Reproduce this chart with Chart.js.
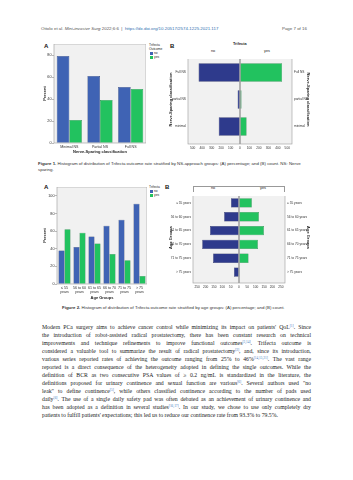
<!DOCTYPE html>
<html lang="en">
<head>
<meta charset="utf-8">
<script src="https://cdn.jsdelivr.net/npm/chart.js@4.4.1/dist/chart.umd.min.js"></script>
<style>
  html, body { margin: 0; padding: 0; background: #fff; }
  #page { position: relative; width: 353px; height: 480px; overflow: hidden;
          font-family: "Liberation Sans", Arial, sans-serif; color: #333; }
  .t { position: absolute; white-space: nowrap; }
  canvas { position: absolute; }
  .entete { font-size: 4.4px; line-height: 6px; color: #555; }
  .entete a { color: #2f6fb0; text-decoration: none; }
  .lettre { font-size: 6px; line-height: 7px; font-weight: bold; color: #111; }
  .leg { font-size: 3.3px; line-height: 3.6px; color: #222; }
  .carre { display: inline-block; width: 3px; height: 3px; margin-right: 1px; vertical-align: middle; }
  .haut { font-size: 3.8px; line-height: 5px; color: #222; }
  .legende { font-size: 4.4px; line-height: 6px; color: #333; }
  .texte { position: absolute; left: 42px; width: 269px; font-family: "Liberation Serif", "Times New Roman", serif;
           font-size: 5.75px; line-height: 8px; color: #222; text-align: justify; text-align-last: justify; white-space: nowrap; }
  .texte.fin { text-align-last: left; }
  .texte sup { font-size: 3.4px; color: #3a78c0; vertical-align: 2px; line-height: 0; }
</style>
</head>
<body>
<div id="page">
  <div class="t entete" style="left:41px; top:26px;">Ottolo et al. <i>Mini-invasive Surg</i> 2022;6:6 &nbsp;|&nbsp; <a>https://dx.doi.org/10.20517/2574-1225.2021.117</a></div>
  <div class="t entete" style="left:282px; top:26px;">Page 7 of 16</div>

  <!-- Figure 1 -->
  <div class="t lettre" style="left:44px; top:43px;">A</div>
  <div class="t lettre" style="left:170px; top:43px;">B</div>
  <div class="t leg" style="left:149px; top:44px;">Trifecta<br>Outcome</div>
  <div class="t leg" style="left:150px; top:52px;"><span class="carre" id="c1n"></span>no<br><span class="carre" id="c1y"></span>yes</div>
  <canvas id="fig1a" width="104" height="110" style="left:42px; top:44px;"></canvas>
  <div class="t haut" style="left:233px; top:42px; font-weight:bold;">Trifecta</div>
  <div class="t haut" style="left:211px; top:49px;">no</div>
  <div class="t haut" style="left:264px; top:49px;">yes</div>
  <canvas id="fig1b" width="143" height="92" style="left:168px; top:59px;"></canvas>
  <div class="t legende" style="left:38px; top:161px;"><b>Figure 1.</b> Histogram of distribution of Trifecta outcome rate stratified by NS-approach groups: (A) percentage; and (B) count. NS: Nerve</div>
  <div class="t legende" style="left:38px; top:167px;">sparing.</div>

  <!-- Figure 2 -->
  <div class="t lettre" style="left:44px; top:184px;">A</div>
  <div class="t lettre" style="left:165px; top:184px;">B</div>
  <div class="t leg" style="left:149px; top:186px;">Trifecta</div>
  <div class="t leg" style="left:150px; top:190px;"><span class="carre" id="c2n"></span>no<br><span class="carre" id="c2y"></span>yes</div>
  <canvas id="fig2a" width="105" height="113" style="left:42px; top:187px;"></canvas>
  <div class="t" style="left:193px; top:186px; width:92px; height:6px; border:0.5px solid #999; border-bottom:none; box-sizing:border-box;"></div>
  <div class="t haut" style="left:211px; top:185.5px;">no</div>
  <div class="t haut" style="left:260px; top:185.5px;">yes</div>
  <canvas id="fig2b" width="143" height="94" style="left:168px; top:196px;"></canvas>
  <div class="t legende" style="left:62px; top:305px;"><b>Figure 2.</b> Histogram of distribution of Trifecta outcome rate stratified by age groups: (A) percentage; and (B) count.</div>

  <div class="texte" style="top:323px;">Modern PCa surgery aims to achieve cancer control while minimizing its impact on patients' QoL<sup>[1]</sup>. Since</div>
  <div class="texte" style="top:331px;">the introduction of robot-assisted radical prostatectomy, there has been constant research on technical</div>
  <div class="texte" style="top:339px;">improvements and technique refinements to improve functional outcomes<sup>[3,14]</sup>. Trifecta outcome is</div>
  <div class="texte" style="top:347px;">considered a valuable tool to summarize the result of radical prostatectomy<sup>[3]</sup>, and, since its introduction,</div>
  <div class="texte" style="top:355px;">various series reported rates of achieving the outcome ranging from 25% to 46%<sup>[14,15,21]</sup>. The vast range</div>
  <div class="texte" style="top:363px;">reported is a direct consequence of the heterogeneity adopted in defining the single outcomes. While the</div>
  <div class="texte" style="top:371px;">definition of BCR as two consecutive PSA values of ≥ 0.2 ng/mL is standardized in the literature, the</div>
  <div class="texte" style="top:379px;">definitions proposed for urinary continence and sexual function are various<sup>[6]</sup>. Several authors used "no</div>
  <div class="texte" style="top:387px;">leak" to define continence<sup>[5]</sup>, while others classified continence according to the number of pads used</div>
  <div class="texte" style="top:395px;">daily<sup>[6]</sup>. The use of a single daily safety pad was often debated as an achievement of urinary continence and</div>
  <div class="texte" style="top:403px;">has been adopted as a definition in several studies<sup>[16,17]</sup>. In our study, we chose to use only completely dry</div>
  <div class="texte fin" style="top:411px;">patients to fulfill patients' expectations; this led us to reduce our continence rate from 93.3% to 79.5%.</div>
</div>

<script>
// ========== DONNEES ==========
// Figure 1 : classification nerve-sparing
const nsCats = ['Minimal NS', 'Partial NS', 'Full NS'];
const nsPctNo = [79, 61, 51];
const nsPctYes = [21, 39, 49];

const nsCatsB = ['Full NS', 'partial NS', 'minimal'];
const nsCountNo = [438, 25, 225];
const nsCountYes = [445, 16, 70];

// Figure 2 : groupes d'âge
const ageCats = ['≤ 55 years', '56 to 60 years', '61 to 65 years', '66 to 70 years', '71 to 75 years', '> 75 years'];
const agePctNo = [38, 42, 54, 66, 73, 91];
const agePctYes = [62, 58, 46, 34, 27, 9];
const ageCountNo = [48, 89, 173, 220, 155, 30];
const ageCountYes = [77, 119, 149, 113, 57, 3];

// Graduations
const ticks1a = [0, 20, 40, 60, 80];
const ticks1b = [-500, -400, -300, -200, -100, 0, 100, 200, 300, 400, 500];
const ticks2a = [0, 20, 40, 60, 80, 100];
const ticks2b = [-250, -200, -150, -100, -50, 0, 50, 100, 150, 200, 250];

// Couleurs SPSS
const bleuA = '#3F63B4';
const bleuB = '#2E3A8C';
const vert = '#22C25F';

['c1n', 'c2n'].forEach(id => document.getElementById(id).style.background = bleuA);
['c1y', 'c2y'].forEach(id => document.getElementById(id).style.background = vert);

Chart.defaults.font.family = '"Liberation Sans", Arial, sans-serif';
Chart.defaults.font.size = 3.8;
Chart.defaults.color = '#333';
Chart.defaults.animation = false;

// taille fixe pour chaque axe, sans marge auto
function fixe(taille) {
    return s => {
        if (s.isHorizontal()) s.height = taille; else s.width = taille;
        s.paddingTop = s.paddingBottom = s.paddingLeft = s.paddingRight = 0;
    };
}

function ticksFixes(valeurs) {
    return s => { s.ticks = valeurs.map(v => ({ value: v })); };
}

// Plugin : fond gris + cadre de la zone de traçage, ligne du zéro
const cadre = {
    id: 'cadre',
    beforeDraw: (chart, args, o) => {
        const a = chart.chartArea, p = o.pad || 0, c = chart.ctx;
        c.save();
        c.fillStyle = '#f1f1f1';
        c.fillRect(a.left, a.top - p, a.right - a.left, a.bottom - a.top + 2 * p);
        c.restore();
    },
    afterDatasetsDraw: (chart, args, o) => {
        const a = chart.chartArea, p = o.pad || 0, c = chart.ctx;
        c.save();
        if (o.zero) {
            const x0 = chart.scales.x.getPixelForValue(0);
            c.strokeStyle = '#a3a3a3';
            c.lineWidth = 1.6;
            c.beginPath();
            c.moveTo(x0, a.top - p);
            c.lineTo(x0, a.bottom + p);
            c.stroke();
        }
        c.strokeStyle = '#9a9a9a';
        c.lineWidth = 0.6;
        c.strokeRect(a.left, a.top - p, a.right - a.left, a.bottom - a.top + 2 * p);
        c.restore();
    }
};

const titre = (txt) => ({ display: true, text: txt, font: { size: 4, weight: 'bold' }, padding: 0, color: '#222' });

// Histogramme vertical (pourcentages)
function histo(id, cats, no, yes, ticks, yMax, xTitle, yw, xh, catPct) {
    new Chart(document.getElementById(id), {
        type: 'bar',
        data: {
            labels: cats,
            datasets: [
                { label: 'no', data: no, backgroundColor: bleuA, borderColor: '#22356a', borderWidth: 0.5,
                  barPercentage: 1, categoryPercentage: catPct },
                { label: 'yes', data: yes, backgroundColor: vert, borderColor: '#167a3b', borderWidth: 0.5,
                  barPercentage: 1, categoryPercentage: catPct }
            ]
        },
        options: {
            responsive: false,
            layout: { padding: 0 },
            plugins: { legend: { display: false }, tooltip: { enabled: false }, cadre: { pad: 0 } },
            scales: {
                x: {
                    grid: { display: false, drawTicks: false },
                    border: { display: false },
                    ticks: { padding: 2, maxRotation: 0, autoSkip: false, font: { size: 3.6 } },
                    title: titre(xTitle),
                    afterFit: fixe(xh)
                },
                y: {
                    min: 0, max: yMax,
                    grid: { drawOnChartArea: false, tickLength: 2, color: '#777', lineWidth: 0.5 },
                    border: { display: false },
                    ticks: { padding: 0.5 },
                    afterBuildTicks: ticksFixes(ticks),
                    title: titre('Percent'),
                    afterFit: fixe(yw)
                }
            }
        },
        plugins: [cadre]
    });
}

// Histogramme en miroir (effectifs)
function papillon(id, cats, no, yes, ticks, lim, yTitle, yl, yr, barPct) {
    new Chart(document.getElementById(id), {
        type: 'bar',
        data: {
            labels: cats,
            datasets: [
                { label: 'no', data: no.map(v => -v), backgroundColor: bleuB, borderColor: '#1b2258', borderWidth: 0.5,
                  barPercentage: barPct, categoryPercentage: 1 },
                { label: 'yes', data: yes, backgroundColor: vert, borderColor: '#167a3b', borderWidth: 0.5,
                  barPercentage: barPct, categoryPercentage: 1 }
            ]
        },
        options: {
            indexAxis: 'y',
            responsive: false,
            layout: { padding: 0 },
            plugins: { legend: { display: false }, tooltip: { enabled: false }, cadre: { pad: 4, zero: true } },
            scales: {
                x: {
                    stacked: true, min: -lim, max: lim,
                    grid: { display: false, drawTicks: false },
                    border: { display: false },
                    ticks: { padding: 6, maxRotation: 0, autoSkip: false, font: { size: 3.2 }, callback: v => Math.abs(v) },
                    afterBuildTicks: ticksFixes(ticks),
                    afterFit: fixe(11)
                },
                y: {
                    stacked: true,
                    grid: { display: false, drawTicks: false },
                    border: { display: false },
                    ticks: { padding: 2, font: { size: 3.2 } },
                    title: titre(yTitle),
                    afterFit: fixe(yl)
                },
                y2: {
                    type: 'category', labels: cats, position: 'right', offset: true,
                    grid: { display: false, drawTicks: false },
                    border: { display: false },
                    ticks: { padding: 2, font: { size: 3.2 } },
                    title: titre(yTitle),
                    afterFit: fixe(yr)
                }
            }
        },
        plugins: [cadre]
    });
}

histo('fig1a', nsCats, nsPctNo, nsPctYes, ticks1a, 90, 'Nerve-Sparing classification', 12, 11, 0.82);
papillon('fig1b', nsCatsB, nsCountNo, nsCountYes, ticks1b, 550, 'Nerve-Sparing classification', 20, 19, 0.68);

const ageLabels = ageCats.map(c => [c.replace(' years', ''), 'years']);
histo('fig2a', ageLabels, agePctNo, agePctYes, ticks2a, 110, 'Age Groups', 15, 16, 0.8);
papillon('fig2b', ageCats, ageCountNo, ageCountYes, ticks2b, 275, 'Age Groups', 25, 26, 0.68);
</script>
</body>
</html>
